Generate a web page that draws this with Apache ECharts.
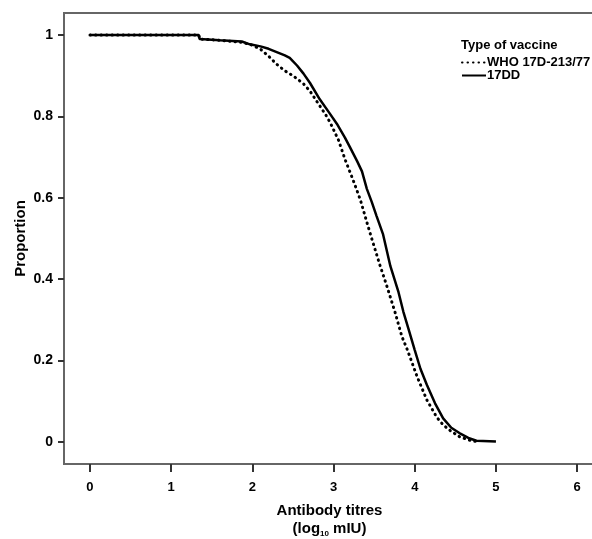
<!DOCTYPE html>
<html>
<head>
<meta charset="UTF-8">
<title>Antibody titres</title>
<script src="https://cdn.jsdelivr.net/npm/echarts@6/dist/echarts.min.js"></script>
<style>
    body,html{ margin:0; padding:0; background:#fff; }
    #main{ width:592px; height:539px; }
</style>
</head>
<body>
<div id="main"></div>
<script>
// tick positions
var xTicks = [0, 1, 2, 3, 4, 5, 6];
var yTicks = [0, 0.2, 0.4, 0.6, 0.8, 1];

// WHO 17D-213/77 : [log10 titre, proportion]
var whoData = [
    [0, 1], [1.34, 1], [1.35, 0.99], [1.6, 0.987], [1.87, 0.982], [2.0, 0.975],
    [2.1, 0.965], [2.2, 0.948], [2.3, 0.928], [2.4, 0.912], [2.5, 0.9], [2.63, 0.88],
    [2.71, 0.862], [2.8, 0.835], [2.9, 0.805], [2.96, 0.784], [3.06, 0.742], [3.14, 0.695],
    [3.24, 0.644], [3.33, 0.595], [3.41, 0.54], [3.47, 0.5], [3.57, 0.435], [3.66, 0.381],
    [3.76, 0.317], [3.84, 0.26], [3.91, 0.226], [4.03, 0.16], [4.15, 0.103], [4.27, 0.061],
    [4.35, 0.042], [4.43, 0.029], [4.56, 0.012], [4.7, 0.003], [4.8, 0]
];

// 17DD
var ddData = [
    [0, 1], [1.34, 1], [1.35, 0.99], [1.6, 0.987], [1.87, 0.984], [1.97, 0.977],
    [2.1, 0.972], [2.2, 0.966], [2.3, 0.958], [2.4, 0.95], [2.46, 0.944], [2.55, 0.925],
    [2.63, 0.905], [2.71, 0.882], [2.83, 0.842], [2.95, 0.808], [3.04, 0.782], [3.14, 0.748],
    [3.2, 0.725], [3.29, 0.69], [3.35, 0.665], [3.41, 0.622], [3.47, 0.59], [3.53, 0.555],
    [3.61, 0.51], [3.7, 0.432], [3.8, 0.368], [3.86, 0.32], [3.92, 0.28], [4.0, 0.226],
    [4.07, 0.18], [4.15, 0.14], [4.25, 0.095], [4.35, 0.058], [4.45, 0.035], [4.55, 0.022],
    [4.66, 0.01], [4.76, 0.003], [5.0, 0.001]
];

var myChart = echarts.init(document.getElementById('main'));
var font = 'Liberation Sans, Arial, sans-serif';

var option = {
    animation: false,
    title: {
        text: 'Type of vaccine',
        left: 456,
        top: 34,
        textStyle: { fontFamily: font, fontSize: 13, fontWeight: 'bold', color: '#000' }
    },
    legend: {
        orient: 'vertical',
        left: 456,
        top: 51,
        itemGap: 0,
        itemWidth: 24,
        itemHeight: 10,
        itemStyle: { opacity: 0 },
        textStyle: { fontFamily: font, fontSize: 13, fontWeight: 'bold', color: '#000', padding: [0, 0, 0, -4] },
        data: ['WHO 17D-213/77', '17DD']
    },
    grid: {
        left: 64,
        top: 13,
        right: -3,
        bottom: 75,
        outerBoundsMode: 'none',
        show: true,
        borderColor: '#666',
        borderWidth: 2
    },
    xAxis: {
        type: 'value',
        min: -0.32,
        max: 6.22,
        name: '{b|Antibody titres}\n{b|(log}{s|10}{b| mIU)}',
        nameLocation: 'middle',
        nameGap: 38,
        nameMoveOverlap: false,
        nameTextStyle: {
            rich: {
                b: { fontFamily: font, fontSize: 15, fontWeight: 'bold', color: '#000', lineHeight: 18 },
                s: { fontFamily: font, fontSize: 8, fontWeight: 'bold', color: '#000', padding: [9, 0, 0, 0] }
            }
        },
        axisLine: { show: true, onZero: false, lineStyle: { color: '#666', width: 2 } },
        axisTick: { show: true, customValues: xTicks, length: 8, lineStyle: { color: '#333', width: 2 } },
        axisLabel: { customValues: xTicks, margin: 17, fontFamily: font, fontSize: 13, fontWeight: 'bold', color: '#000' },
        splitLine: { show: false }
    },
    yAxis: {
        type: 'value',
        min: -0.054,
        max: 1.054,
        name: 'Proportion',
        nameLocation: 'middle',
        nameGap: 36,
        nameMoveOverlap: false,
        nameTextStyle: { fontFamily: font, fontSize: 15, fontWeight: 'bold', color: '#000' },
        axisLine: { show: true, onZero: false, lineStyle: { color: '#666', width: 2 } },
        axisTick: { show: true, customValues: yTicks, length: 6, lineStyle: { color: '#333', width: 2 } },
        axisLabel: { customValues: yTicks, margin: 11, fontFamily: font, fontSize: 14, fontWeight: 'bold', color: '#000' },
        splitLine: { show: false }
    },
    series: [{
        name: 'WHO 17D-213/77',
        type: 'line',
        showSymbol: false,
        symbol: 'none',
        itemStyle: { color: '#000' },
        lineStyle: { color: '#000', width: 3, type: [0.5, 5], cap: 'round' },
        data: whoData
    }, {
        name: '17DD',
        type: 'line',
        showSymbol: false,
        symbol: 'none',
        itemStyle: { color: '#000' },
        lineStyle: { color: '#000', width: 2.5 },
        data: ddData
    }]
};
myChart.setOption(option);
</script>
</body>
</html>
